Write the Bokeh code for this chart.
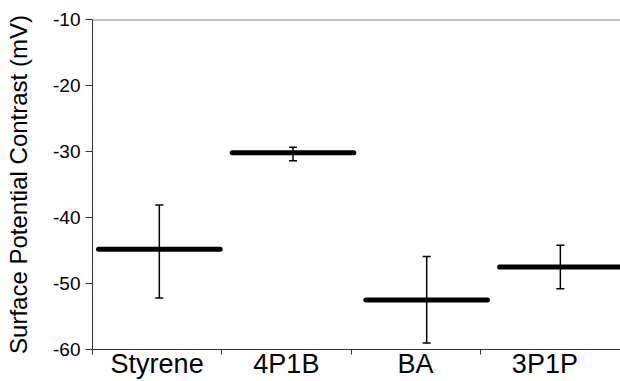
from bokeh.plotting import figure
from bokeh.models import (ColumnDataSource, Range1d, FixedTicker, Whisker, TeeHead, Span)
from bokeh.embed import file_html
from bokeh.resources import INLINE

# ---- data ----
categories = ["Styrene", "4P1B", "BA", "3P1P"]
means = [-44.8, -30.2, -52.5, -47.5]
err_upper = [-38.1, -29.35, -45.9, -44.2]
err_lower = [-52.2, -31.4, -59.0, -50.8]
y_ticks = [-60, -50, -40, -30, -20, -10]

FONT = "Liberation Sans"
n = len(categories)
half = 0.455
xs = [i + 0.5 for i in range(n)]

src = ColumnDataSource(dict(
    x=xs,
    x0=[x - half for x in xs],
    x1=[x + half for x in xs],
    mean=means,
    upper=err_upper,
    lower=err_lower,
))

p = figure(width=620, height=381, output_backend="svg", toolbar_location=None,
           x_range=Range1d(0, 4.085), y_range=Range1d(y_ticks[0], y_ticks[-1]),
           min_border_left=92, min_border_top=19, min_border_right=0, min_border_bottom=0)
p.extra_x_ranges = {"bars": Range1d(0, 3.95)}

p.outline_line_color = None
p.xgrid.visible = False
p.ygrid.visible = False
p.background_fill_color = "white"
p.border_fill_color = "white"

# top line at the upper limit
p.add_layout(Span(location=y_ticks[-1], dimension="width", line_color="#8a8a8a", line_width=2))

# x axis: ticks at category boundaries, labels centred between them
xa = p.xaxis[0]
xa.ticker = FixedTicker(ticks=[i + 0.5 for i in range(n)], minor_ticks=list(range(n)))
xa.major_label_overrides = {i + 0.5: c for i, c in enumerate(categories)}
xa.major_tick_out = 0
xa.major_tick_in = 0
xa.minor_tick_out = 5
xa.minor_tick_in = 0
xa.minor_tick_line_color = "#333333"
xa.axis_line_color = "#333333"
xa.major_label_text_font = FONT
xa.major_label_text_font_size = "27px"
xa.major_label_text_color = "black"
xa.major_label_standoff = -6

ya = p.yaxis[0]
ya.ticker = FixedTicker(ticks=y_ticks)
ya.major_label_overrides = {t: str(t) for t in y_ticks}
ya.major_tick_out = 7
ya.major_tick_in = 0
ya.minor_tick_out = 0
ya.minor_tick_in = 0
ya.axis_line_color = "#333333"
ya.major_tick_line_color = "#333333"
ya.major_label_text_font = FONT
ya.major_label_text_font_size = "19px"
ya.major_label_text_color = "black"
ya.major_label_standoff = 5
ya.axis_label = "Surface Potential Contrast (mV)"
ya.axis_label_text_font = FONT
ya.axis_label_text_font_size = "24px"
ya.axis_label_text_font_style = "normal"
ya.axis_label_text_color = "black"
ya.axis_label_standoff = 18

# mean bars
p.segment(x0="x0", x1="x1", y0="mean", y1="mean", source=src, x_range_name="bars",
          line_color="black", line_width=5, line_cap="round")

# error bars
w = Whisker(source=src, base="x", upper="upper", lower="lower", dimension="height",
            x_range_name="bars", line_color="black", line_width=1.5,
            upper_head=TeeHead(size=8, line_color="black", line_width=1.5),
            lower_head=TeeHead(size=8, line_color="black", line_width=1.5))
p.add_layout(w)

open("out.html", "w").write(file_html(p, INLINE))
